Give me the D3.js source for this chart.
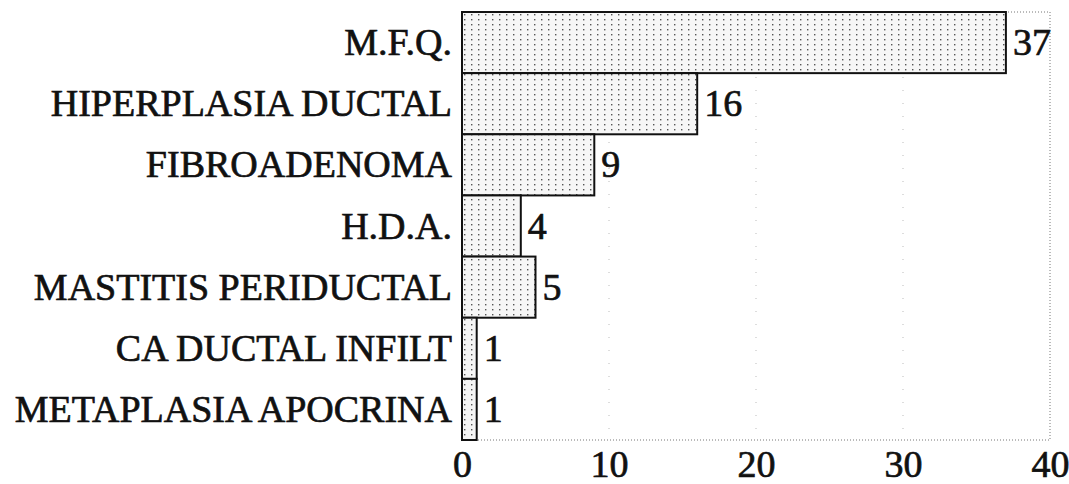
<!DOCTYPE html>
<html lang="es">
<head>
<meta charset="UTF-8">
<title>Diagnósticos</title>
<style>
  html, body { margin: 0; padding: 0; background: #fff; overflow: hidden; }
  svg text { font-family: "Liberation Serif", "DejaVu Serif", serif; fill: #111; stroke: #111; stroke-width: 0.7px; }
</style>
</head>
<body>
<svg id="chart" width="1069" height="484"></svg>
<script src="https://cdn.jsdelivr.net/npm/d3@7"></script>
<script>
  // datos
  const categories = ['M.F.Q.', 'HIPERPLASIA DUCTAL', 'FIBROADENOMA', 'H.D.A.',
                      'MASTITIS PERIDUCTAL', 'CA DUCTAL INFILT', 'METAPLASIA APOCRINA'];
  const values = [37, 16, 9, 4, 5, 1, 1];
  const tickValues = [0, 10, 20, 30, 40];

  const margin = { top: 12, right: 19, bottom: 44, left: 462 };
  const W = 1069, H = 484;
  const iw = W - margin.left - margin.right;
  const ih = H - margin.top - margin.bottom;

  const svg = d3.select('#chart');

  // relleno punteado de las barras
  const pat = svg.append('defs').append('pattern')
      .attr('id', 'dots')
      .attr('patternUnits', 'userSpaceOnUse')
      .attr('width', 7).attr('height', 5);
  pat.append('rect').attr('width', 7).attr('height', 5).attr('fill', '#f6f6f6');
  pat.append('rect').attr('x', 2).attr('y', 2).attr('width', 1.4).attr('height', 1.4).attr('fill', '#555');

  const g = svg.append('g').attr('transform', `translate(${margin.left},${margin.top})`);

  const x = d3.scaleLinear().domain([0, 40]).range([0, iw]);
  const y = d3.scaleBand().domain(categories).range([0, ih]).padding(0);

  // rejilla punteada
  g.selectAll('.grid')
    .data(tickValues.slice(1, -1))
    .enter().append('line')
      .attr('x1', d => x(d)).attr('x2', d => x(d))
      .attr('y1', 0).attr('y2', ih)
      .attr('stroke', '#bbb').attr('stroke-width', 1)
      .attr('stroke-dasharray', '1,12');

  // marco
  g.append('rect')
    .attr('width', iw).attr('height', ih)
    .attr('fill', 'none').attr('stroke', '#777')
    .attr('stroke-width', 1).attr('stroke-dasharray', '1,2');

  // barras
  g.selectAll('.bar')
    .data(values)
    .enter().append('rect')
      .attr('x', 0)
      .attr('y', (d, i) => y(categories[i]))
      .attr('width', d => x(d))
      .attr('height', y.bandwidth())
      .attr('fill', 'url(#dots)')
      .attr('stroke', '#111')
      .attr('stroke-width', 2);

  // valores
  g.selectAll('.val')
    .data(values)
    .enter().append('text')
      .attr('x', d => x(d) + 7)
      .attr('y', (d, i) => y(categories[i]) + y.bandwidth() / 2 + 12.5)
      .attr('font-size', 38)
      .text(d => d);

  // categorías
  g.selectAll('.cat')
    .data(categories)
    .enter().append('text')
      .attr('x', -10)
      .attr('y', d => y(d) + y.bandwidth() / 2 + 12.5)
      .attr('text-anchor', 'end')
      .attr('font-size', 38)
      .text(d => d);

  // eje x
  const axis = d3.axisBottom(x).tickValues(tickValues).tickSize(0).tickPadding(10);
  const ax = g.append('g')
    .attr('transform', `translate(0,${ih})`)
    .call(axis);
  ax.select('.domain').remove();
  ax.selectAll('text')
    .attr('font-size', 38)
    .attr('font-family', '"Liberation Serif", serif')
    .attr('fill', '#111');
</script>
</body>
</html>
